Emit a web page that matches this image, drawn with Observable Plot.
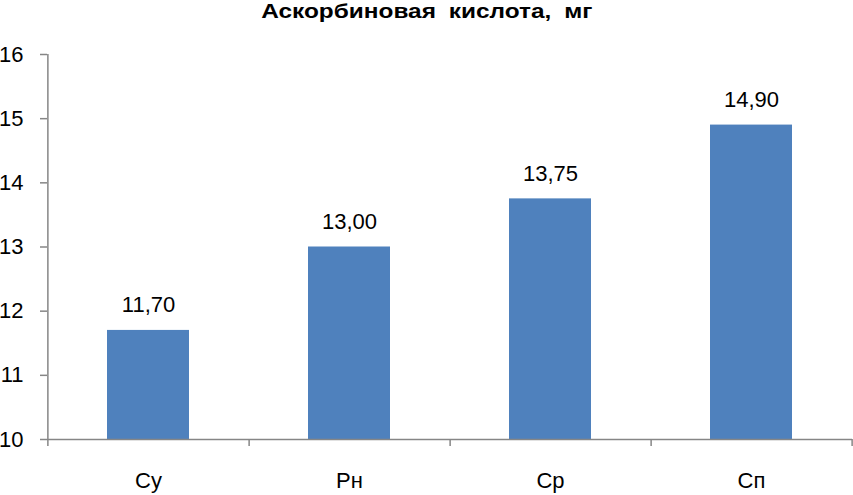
<!DOCTYPE html>
<html><head><meta charset="utf-8">
<script src="https://cdn.jsdelivr.net/npm/d3@7"></script>
<script src="https://cdn.jsdelivr.net/npm/@observablehq/plot@0.6"></script>
<style>
body{margin:0;background:#fff;font-family:"Liberation Sans",Arial,sans-serif;}
#title{width:853px;height:40px;line-height:22px;text-align:center;color:#000;}
#title span{display:inline-block;font-weight:bold;font-size:20px;word-spacing:5px;transform:scaleX(1.22);transform-origin:center;}
</style></head><body>
<div id="title"><span>Аскорбиновая кислота, мг</span></div>
<div id="chart"></div>
<script>
const categories = ["Су", "Рн", "Ср", "Сп"];
const values = [11.70, 13.00, 13.75, 14.90];
const yTicks = [10, 11, 12, 13, 14, 15, 16];

const data = categories.map((c, i) => ({cat: c, v: values[i]}));
const fmt = v => d3.format(".2f")(v).replace(".", ",");
const W = 853, H = 455, mt = 14, mb = 56, ml = 47, mr = 1;
const step = (W - ml - mr) / categories.length;
const frameH = H - mt - mb;
const gray = "#868686";

const chart = Plot.plot({
  width: W, height: H,
  marginTop: mt, marginBottom: mb, marginLeft: ml, marginRight: mr,
  style: {fontFamily: "'Liberation Sans', Arial, sans-serif", fontSize: "22px", color: "#000", background: "#fff", overflow: "visible"},
  x: {domain: categories, paddingInner: 0.59, paddingOuter: 0.295, label: null},
  y: {domain: [10, 16], label: null},
  marks: [
    Plot.barY(data, {x: "cat", y1: 10, y2: "v", fill: "#4F81BD"}),
    Plot.ruleY([10], {stroke: gray, strokeWidth: 1.5}),
    Plot.ruleX([categories[0]], {x: d => d, dx: -step / 2, stroke: gray, strokeWidth: 1.5, insetBottom: -7}),
    Plot.ruleX(categories, {x: d => d, dx: step / 2, stroke: gray, strokeWidth: 1.5, insetTop: frameH, insetBottom: -7}),
    Plot.axisY({ticks: yTicks, tickFormat: d => String(d), tickSize: 7, tickPadding: 17, stroke: gray, strokeWidth: 1.5, fontSize: 22}),
    Plot.axisX({tickSize: 0, tickPadding: 33, fontSize: 22}),
    Plot.text(data, {x: "cat", y: "v", text: d => fmt(d.v), lineAnchor: "middle", dy: -25, fontSize: 22, fill: "#000"})
  ]
});
document.getElementById("chart").appendChild(chart);
</script></body></html>
